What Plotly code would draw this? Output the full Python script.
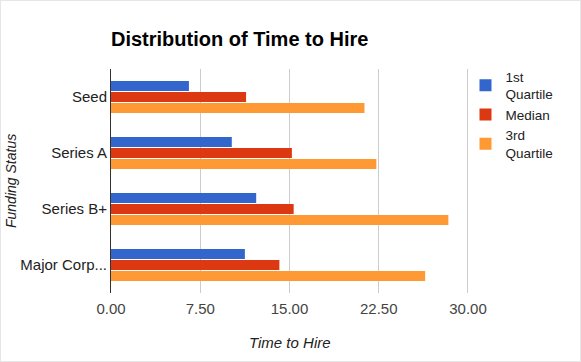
import plotly.graph_objects as go

categories = ["Seed", "Series A", "Series B+", "Major Corp..."]
q1 = [6.55, 10.15, 12.2, 11.25]
median = [11.35, 15.2, 15.35, 14.15]
q3 = [21.3, 22.3, 28.35, 26.4]
series_names = ["1st<br>Quartile", "Median", "3rd<br>Quartile"]
colors = ["#3366cc", "#dc3912", "#ff9933"]
tick_vals = [0, 7.5, 15, 22.5, 30]
tick_text = ["0.00", "7.50", "15.00", "22.50", "30.00"]

W, H = 581, 362
L, R, T, B = 111, 113, 69, 69
pw = W - L - R
ph = H - T - B

fig = go.Figure()
for name, vals, c in zip(series_names, [q1, median, q3], colors):
    fig.add_trace(go.Bar(y=categories, x=vals, name=name, orientation="h",
                         marker=dict(color=c, line=dict(width=0))))

font = "Liberation Sans, Arial, sans-serif"
fig.update_layout(
    width=W, height=H,
    margin=dict(l=L, r=R, t=T, b=B, pad=0),
    paper_bgcolor="white", plot_bgcolor="white",
    barmode="group", bargap=0.41, bargroupgap=0.08,
    font=dict(family=font, size=15, color="#444"),
    title=dict(text="<b>Distribution of Time to Hire</b>",
               font=dict(family=font, size=20, color="#000"),
               xref="paper", x=0, xanchor="left",
               yref="container", y=1 - 39 / H, yanchor="middle"),
    xaxis=dict(range=[0, 30], tickvals=tick_vals, ticktext=tick_text,
               showgrid=True, gridcolor="#cccccc", gridwidth=1,
               zeroline=False, showline=False, ticks="", ticklabelstandoff=5,
               tickfont=dict(size=15, color="#444"), fixedrange=True),
    yaxis=dict(autorange="reversed", showline=True, linecolor="#333", linewidth=1,
               ticks="", ticklabelstandoff=0,
               tickfont=dict(size=15, color="#222")),
    legend=dict(x=(465.5 - L) / pw, xanchor="left", y=1.035, yanchor="top",
                bgcolor="rgba(0,0,0,0)",
                font=dict(size=13.5, color="#222"), traceorder="normal",
                tracegroupgap=0, itemclick=False),
    showlegend=True,
    annotations=[
        dict(text="<i>Time to Hire</i>", xref="paper", yref="paper",
             x=0.5, y=-(342 - (T + ph)) / ph, xanchor="center", yanchor="middle",
             showarrow=False, font=dict(family=font, size=15, color="#222")),
        dict(text="<i>Funding Status</i>", xref="paper", yref="paper",
             x=(11 - L) / pw, y=0.5, xanchor="center", yanchor="middle", textangle=-90,
             showarrow=False, font=dict(family=font, size=14, color="#222")),
    ],
    shapes=[
        dict(type="line", xref="x", yref="paper", x0=30, x1=30, y0=0, y1=1,
             line=dict(color="#cccccc", width=2), layer="below"),
        dict(type="rect", xref="paper", yref="paper",
             x0=-L / pw, x1=1 + R / pw, y0=-B / ph, y1=1 + T / ph,
             line=dict(color="#e6e6e6", width=2)),
    ],
)

fig.write_html("out.html", config={"displayModeBar": False},
               post_script="document.body.style.margin='0';document.body.style.padding='0';")
